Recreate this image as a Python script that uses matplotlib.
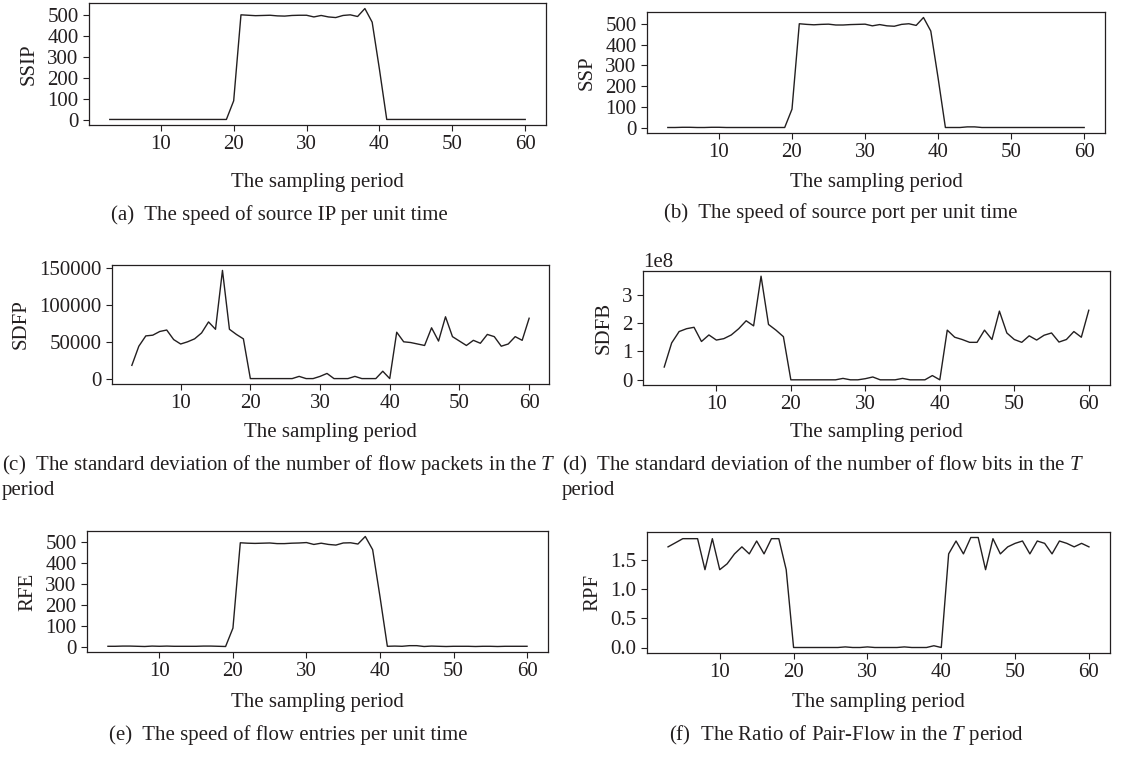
import numpy as np
import matplotlib
matplotlib.use("Agg")
import matplotlib.pyplot as plt
from matplotlib.ticker import MultipleLocator

plt.rcParams["font.family"] = ["Liberation Serif", "DejaVu Serif"]
plt.rcParams["mathtext.fontset"] = "custom"
plt.rcParams["mathtext.rm"] = "Liberation Serif"
plt.rcParams["mathtext.it"] = "Liberation Serif:italic"
plt.rcParams["font.size"] = 15
plt.rcParams["text.color"] = "#231f20"
plt.rcParams["axes.labelcolor"] = "#231f20"
plt.rcParams["xtick.color"] = "#231f20"
plt.rcParams["ytick.color"] = "#231f20"

periods = list(range(3, 61))

ssip = [1] * 17 + [90,
        500, 498, 496, 497, 498, 495, 494, 497, 498, 498,
        490, 497, 490, 487, 497, 500, 492, 530, 465, 240] + [1] * 20

ssp = [2, 2, 3, 3, 2, 2, 3, 3, 2, 2, 2, 2, 2, 2, 2, 2, 2,
       90,
       500, 497, 495, 497, 498, 494, 494, 496, 497, 498,
       490, 496, 490, 488, 497, 500, 492, 530, 465, 240,
       2, 2, 2, 5, 5, 2, 2, 2, 2, 2, 2, 2, 2, 2, 2, 2, 2, 2, 2, 2]

sdfp = [18000, 44000, 58000, 59000, 64000, 66000, 53000, 47000, 50000, 54000,
        62000, 77000, 67000, 147000, 67000, 60000, 54000,
        0, 0, 0, 0, 0, 0, 0, 3000, 0, 0, 3000, 7000, 0, 0, 0, 3000, 0, 0, 0, 10000, 0,
        63000, 50000, 49000, 47000, 45000, 69000, 51000, 84000, 57000, 51000,
        45000, 52000, 48000, 60000, 57000, 44000, 47000, 57000, 52000, 82000]

# flow bits std, in units of 1e8
sdfb = [0.45, 1.3, 1.7, 1.8, 1.85, 1.35, 1.58, 1.4, 1.45, 1.58,
        1.8, 2.08, 1.9, 3.65, 1.95, 1.75, 1.52,
        0, 0, 0, 0, 0, 0, 0, 0.05, 0, 0, 0.04, 0.1, 0, 0, 0, 0.05, 0, 0, 0, 0.15, 0,
        1.75, 1.5, 1.42, 1.32, 1.32, 1.75, 1.42, 2.42, 1.65, 1.42,
        1.32, 1.55, 1.4, 1.57, 1.65, 1.33, 1.42, 1.7, 1.5, 2.45]

rfe = [3, 3, 4, 4, 3, 2, 4, 3, 4, 3, 3, 3, 3, 4, 4, 3, 2,
       90,
       498, 496, 495, 496, 497, 494, 494, 496, 497, 499,
       490, 496, 490, 487, 497, 498, 492, 528, 465, 240,
       3, 4, 3, 6, 6, 2, 4, 3, 2, 3, 3, 3, 2, 3, 3, 2, 3, 3, 3, 3]

rpf = [1.72, 1.79, 1.86, 1.86, 1.86, 1.33, 1.86, 1.33, 1.43, 1.6,
       1.72, 1.6, 1.82, 1.6, 1.86, 1.86, 1.33,
       0, 0, 0, 0, 0, 0, 0, 0.01, 0, 0, 0.01, 0, 0, 0, 0, 0.01, 0, 0, 0, 0.03, 0,
       1.6, 1.82, 1.6, 1.88, 1.88, 1.33, 1.86, 1.6, 1.72, 1.78,
       1.82, 1.6, 1.82, 1.78, 1.6, 1.82, 1.78, 1.72, 1.78, 1.72]

W, H = 1125, 758
fig = plt.figure(figsize=(W / 100, H / 100), dpi=100)


def box(l, t, r, b):
    return [l / W, 1 - b / H, (r - l) / W, (b - t) / H]


panels = [
    (ssip, "SSIP", 100, box(89, 3, 546, 125), 183,
     [(111, 215, "(a)  The speed of source IP per unit time")]),
    (ssp, "SSP", 100, box(647, 12, 1105, 133), 183,
     [(664, 213, "(b)  The speed of source port per unit time")]),
    (sdfp, "SDFP", 50000, box(112, 265, 549, 384), 433,
     [(2, 465, "(c)  The standard deviation of the number of flow packets in the $T$"),
      (2, 490, "period")]),
    (np.array(sdfb) * 1e8, "SDFB", 1e8, box(643, 271, 1110, 385), 433,
     [(562, 465, "(d)  The standard deviation of the number of flow bits in the $T$"),
      (562, 490, "period")]),
    (rfe, "RFE", 100, box(87, 531, 548, 652), 703,
     [(109, 735, "(e)  The speed of flow entries per unit time")]),
    (rpf, "RPF", 0.5, box(647, 532, 1110, 653), 703,
     [(669, 735, "(f)  The Ratio of Pair-Flow in the $T$ period")]),
]

for vals, name, step, pos, xl_y, caps in panels:
    ax = fig.add_axes(pos)
    ax.plot(periods, vals, color="#231f20", lw=1.0)
    ax.xaxis.set_major_locator(MultipleLocator(10))
    ax.yaxis.set_major_locator(MultipleLocator(step))
    ax.tick_params(direction="out", length=4, width=0.8, labelsize=15)
    for s in ax.spines.values():
        s.set_color("#231f20")
        s.set_linewidth(0.9)
    ax.set_ylabel(name, labelpad=6)
    ax.set_xlabel("The sampling period", va="center")
    ax.xaxis.set_label_coords(pos[0] + pos[2] / 2, 1 - xl_y / H,
                              transform=fig.transFigure)
    for cx, cy, txt in caps:
        fig.text(cx / W, 1 - cy / H, txt, ha="left", va="center", fontsize=15)

fig.savefig("out.png", dpi=100)
